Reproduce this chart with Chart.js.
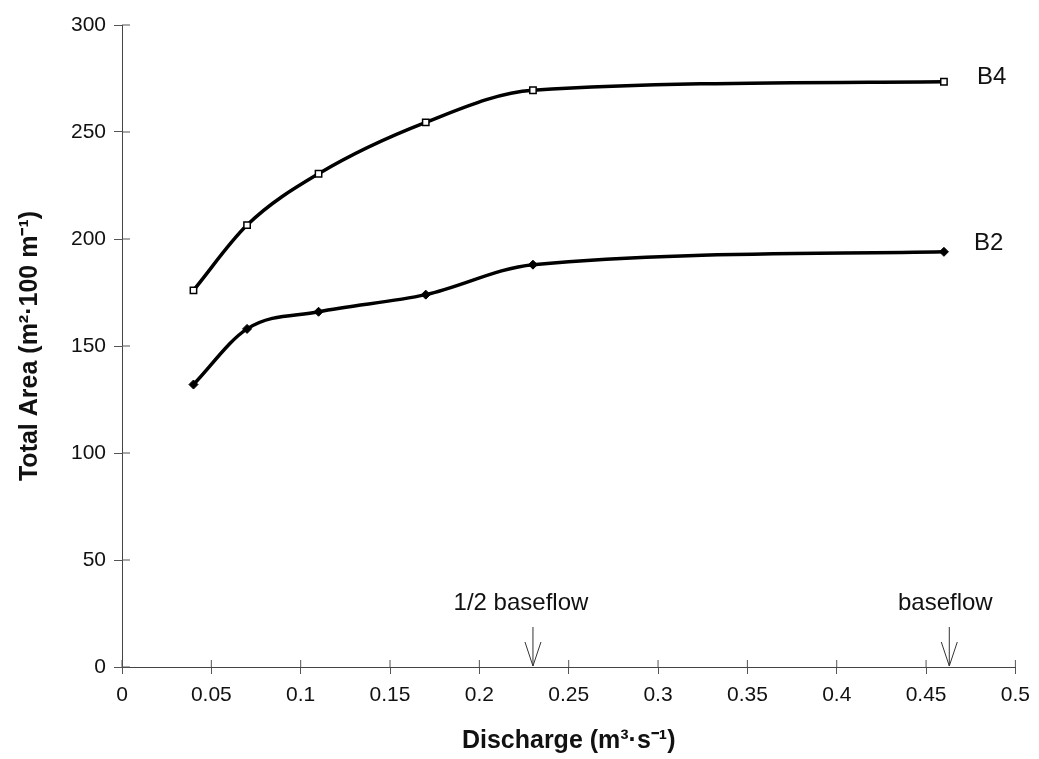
<!DOCTYPE html>
<html>
<head>
<meta charset="utf-8">
<script src="https://cdn.jsdelivr.net/npm/chart.js@4/dist/chart.umd.min.js"></script>
<style>
  body { margin: 0; background: #fff; }
  #wrap { width: 1039px; height: 759px; }
</style>
</head>
<body>
<div id="wrap"><canvas id="grafico" width="1039" height="759"></canvas></div>
<script>
// data
var vazao = [0.04, 0.07, 0.11, 0.17, 0.23, 0.46];
var areaB4 = [176, 206.5, 230.5, 254.5, 269.5, 273.5];
var areaB2 = [132, 158, 166, 174, 188, 194];
var ticksX = [0, 0.05, 0.1, 0.15, 0.2, 0.25, 0.3, 0.35, 0.4, 0.45, 0.5];
var ticksY = [0, 50, 100, 150, 200, 250, 300];
var setas = [
  { x: 0.23, texto: "1/2 baseflow", dx: -12 },
  { x: 0.463, texto: "baseflow", dx: -4 }
];

var fonte = "'Liberation Sans', Arial, sans-serif";

function pontos(ys) {
  return vazao.map(function (x, i) { return { x: x, y: ys[i] }; });
}

var extras = {
  id: "extras",
  afterDraw: function (chart) {
    var c = chart.ctx;
    var sx = chart.scales.x, sy = chart.scales.y;
    var y0 = sy.getPixelForValue(0);
    c.save();
    // inner half of the tick marks
    c.strokeStyle = "#555";
    c.lineWidth = 1;
    c.beginPath();
    ticksX.forEach(function (v) {
      var px = sx.getPixelForValue(v);
      c.moveTo(px, y0); c.lineTo(px, y0 - 7);
    });
    ticksY.forEach(function (v) {
      var py = sy.getPixelForValue(v);
      c.moveTo(sx.left, py); c.lineTo(sx.left + 8, py);
    });
    c.stroke();

    // arrows and their labels
    c.fillStyle = "#111";
    c.font = "24px " + fonte;
    c.textAlign = "center";
    c.textBaseline = "middle";
    setas.forEach(function (s) {
      var px = sx.getPixelForValue(s.x);
      c.strokeStyle = "#333";
      c.beginPath();
      c.moveTo(px, y0 - 40); c.lineTo(px, y0 - 1);
      c.moveTo(px - 8, y0 - 25); c.lineTo(px, y0 - 1); c.lineTo(px + 8, y0 - 25);
      c.stroke();
      c.fillText(s.texto, px + s.dx, y0 - 64);
    });

    // series names
    c.font = "24px " + fonte;
    c.textAlign = "left";
    var ult = vazao.length - 1;
    var xf = sx.getPixelForValue(vazao[ult]);
    c.fillText("B4", xf + 33, sy.getPixelForValue(areaB4[ult]) - 4);
    c.fillText("B2", xf + 30, sy.getPixelForValue(areaB2[ult]) - 8);
    c.restore();
  }
};

var ctx = document.getElementById("grafico").getContext("2d");
var grafico = new Chart(ctx, {
  type: "scatter",
  data: {
    datasets: [
      {
        label: "B4",
        data: pontos(areaB4),
        showLine: true,
        borderColor: "#000",
        borderWidth: 3.5,
        cubicInterpolationMode: "monotone",
        pointStyle: "rect",
        pointRadius: 4.5,
        pointBackgroundColor: "#fff",
        pointBorderColor: "#000",
        pointBorderWidth: 1.5
      },
      {
        label: "B2",
        data: pontos(areaB2),
        showLine: true,
        borderColor: "#000",
        borderWidth: 3.5,
        cubicInterpolationMode: "monotone",
        pointStyle: "rectRot",
        pointRadius: 4.5,
        pointBackgroundColor: "#000",
        pointBorderColor: "#000",
        pointBorderWidth: 1
      }
    ]
  },
  options: {
    responsive: false,
    animation: false,
    layout: { padding: { top: 25, right: 22, left: 0, bottom: 0 } },
    plugins: { legend: { display: false }, tooltip: { enabled: false } },
    scales: {
      x: {
        type: "linear",
        min: 0,
        max: 0.5,
        afterBuildTicks: function (s) { s.ticks = ticksX.map(function (v) { return { value: v }; }); },
        afterFit: function (s) { s.height = 92; },
        grid: { drawOnChartArea: false, tickLength: 7, color: "#555" },
        border: { color: "#444", width: 1 },
        ticks: {
          color: "#111",
          padding: 9,
          font: { family: fonte, size: 21 },
          callback: function (v) { return String(Number(v.toFixed(2))); }
        },
        title: {
          display: true,
          text: "Discharge (m³·s⁻¹)",
          color: "#111",
          padding: { top: 0, bottom: 3 },
          font: { family: fonte, size: 25, weight: "bold" }
        }
      },
      y: {
        min: 0,
        max: 300,
        afterBuildTicks: function (s) { s.ticks = ticksY.map(function (v) { return { value: v }; }); },
        afterFit: function (s) { s.width = 122; },
        grid: { drawOnChartArea: false, tickLength: 8, color: "#555" },
        border: { color: "#444", width: 1 },
        ticks: {
          color: "#111",
          padding: 8,
          font: { family: fonte, size: 21 }
        },
        title: {
          display: true,
          text: "Total Area (m²·100 m⁻¹)",
          color: "#111",
          padding: { top: 15, bottom: 0 },
          font: { family: fonte, size: 25, weight: "bold" }
        }
      }
    }
  },
  plugins: [extras]
});
</script>
</body>
</html>
